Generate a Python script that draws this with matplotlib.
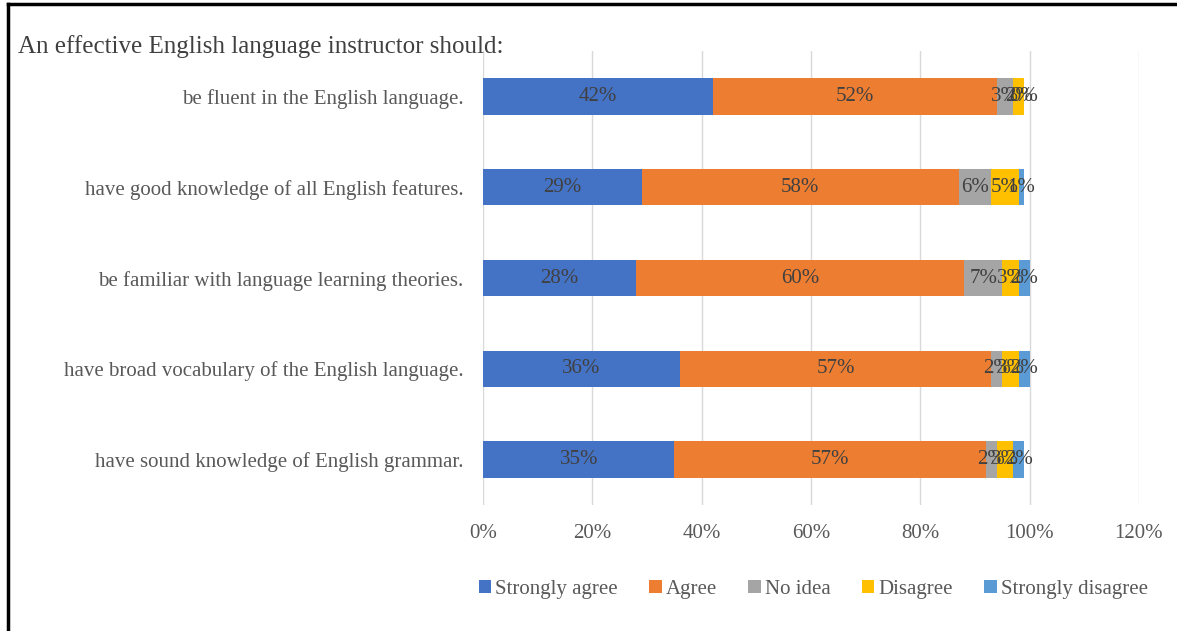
import matplotlib.pyplot as plt
from matplotlib.lines import Line2D

plt.rcParams['font.family'] = ['Liberation Serif', 'DejaVu Serif']

categories = [
    'have sound knowledge of English grammar.',
    'have broad vocabulary of the English language.',
    'be familiar with language learning theories.',
    'have good knowledge of all English features.',
    'be fluent in the English language.',
]
series = ['Strongly agree', 'Agree', 'No idea', 'Disagree', 'Strongly disagree']
colors = ['#4472C4', '#ED7D31', '#A5A5A5', '#FFC000', '#5B9BD5']

strongly_agree = [35, 36, 28, 29, 42]
agree = [57, 57, 60, 58, 52]
no_idea = [2, 2, 7, 6, 3]
disagree = [3, 3, 3, 5, 2]
strongly_disagree = [2, 2, 2, 1, 0]
values = [strongly_agree, agree, no_idea, disagree, strongly_disagree]

fig = plt.figure(figsize=(11.77, 6.31), dpi=100)
ax = fig.add_axes([0.4104, 0.1997, 0.5573, 0.7193])

left = [0] * len(categories)
ypos = range(len(categories))
for name, vals, c in zip(series, values, colors):
    bars = ax.barh(ypos, vals, left=left, height=0.4, color=c, label=name, zorder=2)
    ax.bar_label(bars, labels=[f'{v}%' for v in vals], label_type='center',
                 color='#404040', fontsize=15)
    left = [a + b for a, b in zip(left, vals)]

ax.set_xlim(0, 120)
ax.set_ylim(-0.5, 4.5)
ax.set_xticks(range(0, 121, 20))
ax.set_xticklabels([f'{t}%' for t in range(0, 121, 20)])
ax.set_yticks(list(ypos))
ax.set_yticklabels(categories)
ax.tick_params(length=0, labelsize=15, colors='#595959')
ax.tick_params(axis='x', pad=14)
ax.tick_params(axis='y', pad=14)
ax.grid(axis='x', color='#D9D9D9', lw=1, zorder=0)
for s in ax.spines.values():
    s.set_visible(False)

fig.text(0.015, 0.927, 'An effective English language instructor should:',
         fontsize=18, color='#404040', va='center', ha='left')

leg = fig.legend(loc='center', bbox_to_anchor=(0.691, 0.066), ncol=5, frameon=False,
                 fontsize=15, handlelength=0.6, handleheight=0.6, handletextpad=0.2,
                 columnspacing=1.5)
for t in leg.get_texts():
    t.set_color('#595959')

fig.add_artist(Line2D([0.007, 0.007], [0, 0.993], color='black', lw=2.5))
fig.add_artist(Line2D([0.007, 1], [0.993, 0.993], color='black', lw=2.5))

fig.savefig('out.png', dpi=100)
